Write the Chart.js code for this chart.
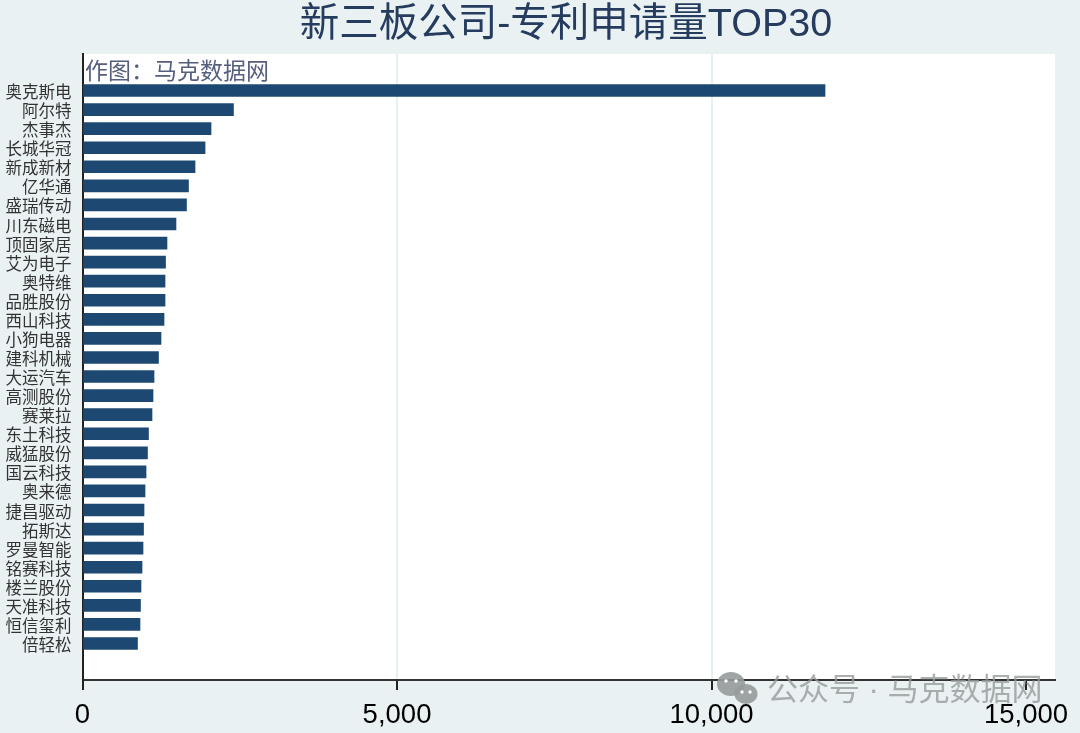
<!DOCTYPE html>
<html lang="zh">
<head>
<meta charset="utf-8">
<title>新三板公司-专利申请量TOP30</title>
<script src="https://cdn.jsdelivr.net/npm/chart.js@4"></script>
<style>
  html, body { margin: 0; padding: 0; background: #e9f1f3; }
  canvas { display: block; }
</style>
</head>
<body>
<canvas id="chart" width="1080" height="733"></canvas>
<script>
const companies = ['奥克斯电', '阿尔特', '杰事杰', '长城华冠', '新成新材', '亿华通', '盛瑞传动', '川东磁电', '顶固家居', '艾为电子',
  '奥特维', '品胜股份', '西山科技', '小狗电器', '建科机械', '大运汽车', '高测股份', '赛莱拉', '东土科技', '威猛股份',
  '国云科技', '奥来德', '捷昌驱动', '拓斯达', '罗曼智能', '铭赛科技', '楼兰股份', '天准科技', '恒信玺利', '倍轻松'];
const patents = [11804, 2400, 2043, 1948, 1789, 1685, 1653, 1486, 1343, 1320,
  1312, 1312, 1296, 1248, 1208, 1137, 1121, 1105, 1049, 1033,
  1010, 994, 978, 970, 962, 946, 930, 922, 914, 874];
const xTicks = [0, 5000, 10000, 15000];

const titleText = '新三板公司-专利申请量TOP30';
const noteText = '作图\uFF1A马克数据网';
const markText = '公众号 · 马克数据网';
const fontFamily = '"Liberation Sans", "Noto Sans CJK SC", sans-serif';

const chromePlugin = {
  id: 'chrome',
  beforeDraw(chart) {
    const { ctx, chartArea: a } = chart;
    ctx.save();
    ctx.fillStyle = '#e9f1f3';
    ctx.fillRect(0, 0, chart.width, chart.height);
    ctx.fillStyle = '#ffffff';
    ctx.fillRect(a.left, a.top, a.right - a.left, a.bottom - a.top);
    ctx.restore();
  },
  afterDraw(chart) {
    const { ctx } = chart;
    ctx.save();
    ctx.textBaseline = 'middle';

    ctx.fillStyle = '#253c5e';
    ctx.font = '39.5px ' + fontFamily;
    ctx.textAlign = 'center';
    ctx.fillText(titleText, 566, 25);

    ctx.fillStyle = '#55607f';
    ctx.font = '23px ' + fontFamily;
    ctx.textAlign = 'left';
    ctx.fillText(noteText, 85, 73);

    // 水印
    ctx.fillStyle = 'rgba(150,155,155,0.8)';
    ctx.font = '31px ' + fontFamily;
    ctx.fillText(markText, 767, 691);
    ctx.fillStyle = 'rgba(150,155,155,0.9)';
    ctx.beginPath();
    ctx.ellipse(731, 684, 14, 12, 0, 0, Math.PI * 2);
    ctx.fill();
    ctx.beginPath();
    ctx.ellipse(746, 694, 11.5, 10, 0, 0, Math.PI * 2);
    ctx.fill();
    ctx.fillStyle = '#ffffff';
    [[726, 681], [736, 681], [742, 692], [750, 692]].forEach(([x, y]) => {
      ctx.beginPath();
      ctx.arc(x, y, 1.7, 0, Math.PI * 2);
      ctx.fill();
    });
    ctx.restore();
  }
};

new Chart(document.getElementById('chart').getContext('2d'), {
  type: 'bar',
  data: {
    datasets: [{
      data: patents.map((v, i) => ({ x: v, y: i })),
      backgroundColor: '#1c4872',
      barThickness: 12
    }]
  },
  options: {
    indexAxis: 'y',
    responsive: false,
    animation: false,
    devicePixelRatio: 1,
    layout: { padding: { top: 54, right: 25, left: 0, bottom: 0 } },
    plugins: { legend: { display: false }, tooltip: { enabled: false } },
    scales: {
      x: {
        type: 'linear',
        bounds: 'data',
        min: 0,
        max: 15460,
        afterBuildTicks(scale) { scale.ticks = xTicks.map(v => ({ value: v })); },
        afterFit(scale) { scale.height = 53; },
        border: { color: '#333333', width: 2 },
        grid: {
          color: c => (c.tick && c.tick.value === 15000 ? 'rgba(0,0,0,0)' : '#e6f0f2'),
          lineWidth: 2,
          tickColor: '#222222',
          tickWidth: 2,
          tickLength: 10
        },
        ticks: {
          color: '#000000',
          padding: 9,
          maxRotation: 0,
          autoSkip: false,
          font: { size: 27.5, family: fontFamily },
          callback: v => v.toLocaleString('en-US')
        }
      },
      y: {
        type: 'linear',
        bounds: 'data',
        offset: false,
        reverse: true,
        min: -1.914,
        max: 30.914,
        afterBuildTicks(scale) { scale.ticks = companies.map((c, i) => ({ value: i })); },
        afterFit(scale) { scale.width = 82.5; },
        border: { color: '#222222', width: 2 },
        grid: { display: false, drawTicks: false, offset: false },
        ticks: {
          color: '#333333',
          padding: 11,
          labelOffset: 3,
          autoSkip: false,
          font: { size: 16.5, family: fontFamily },
          callback: v => companies[v]
        }
      }
    }
  },
  plugins: [chromePlugin]
});
</script>
</body>
</html>
